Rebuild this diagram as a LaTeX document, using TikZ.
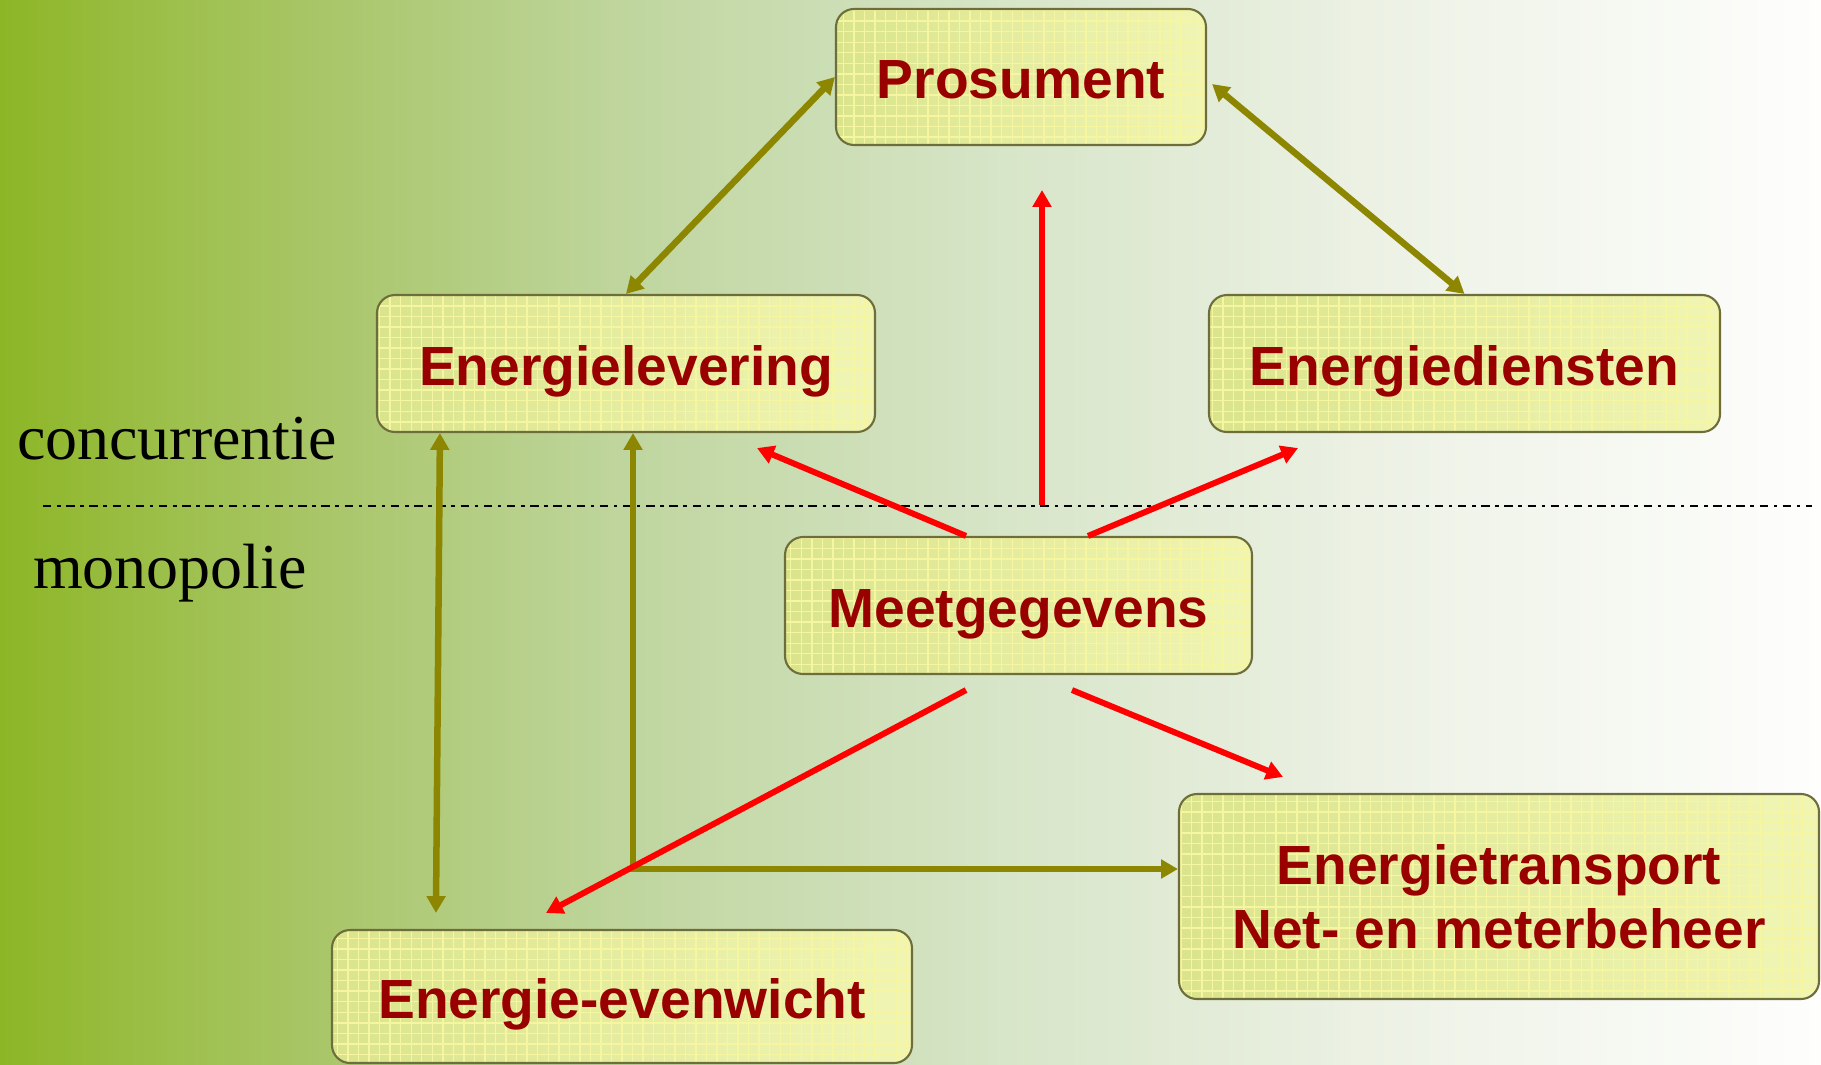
\documentclass[tikz,border=0pt]{standalone}
\usepackage{fontspec}
\setmainfont{Liberation Serif}
\newfontfamily\boxfont{Liberation Sans}
\usetikzlibrary{positioning, arrows.meta, calc, patterns}

\definecolor{bgA}{RGB}{141,182,38}
\definecolor{bgB}{RGB}{158,192,78}
\definecolor{bgC}{RGB}{172,200,112}
\definecolor{bgD}{RGB}{192,214,160}
\definecolor{bgE}{RGB}{215,229,200}
\definecolor{bgF}{RGB}{236,241,228}
\definecolor{bgG}{RGB}{254,254,253}
\definecolor{boxA}{RGB}{218,228,140}
\definecolor{boxB}{RGB}{240,245,180}
\definecolor{gridcol}{RGB}{246,246,160}
\definecolor{boxline}{RGB}{110,110,60}
\definecolor{txtred}{RGB}{153,0,0}

% the path covers 25bp..75bp of a shading
\pgfdeclarehorizontalshading{bgshade}{100bp}{color(0bp)=(bgA); color(25bp)=(bgA); color(30bp)=(bgB); color(35bp)=(bgC); color(42.5bp)=(bgD); color(52.5bp)=(bgE); color(62.5bp)=(bgF); color(75bp)=(bgG); color(100bp)=(bgG)}
\pgfdeclarehorizontalshading{boxshade}{100bp}{color(0bp)=(boxA); color(25bp)=(boxA); color(75bp)=(boxB); color(100bp)=(boxB)}

\begin{document}
\begin{tikzpicture}[
    box/.style={rectangle, rounded corners=0.18cm, draw=boxline, line width=0.6pt,
      preaction={shade, shading=boxshade}, pattern=grid, pattern color=gridcol,
      align=center, text=txtred, font=\boxfont\bfseries\fontsize{15.7}{18.1}\selectfont},
    oneline/.style={box, text height=0.43cm, text depth=0pt},
    zone/.style={inner sep=0pt, font=\fontsize{18.2}{20}\selectfont},
    olivearrow/.style={draw=olive, line width=1.85pt},
    redarrow/.style={draw=red, line width=1.7pt},
    sepline/.style={line width=0.75pt, dash pattern=on 2.4pt off 1.6pt on 1pt off 1.6pt},
    >={Triangle[width=5.2pt,length=4.8pt]}
  ]
    % background
    \useasboundingbox (0,0) rectangle (18.21,-10.65);
    \shade[shading=bgshade] (0,0) rectangle (18.21,-10.65);

    % market side labels and border line
    \node[zone] (conc) at (1.77,-4.39) {concurrentie};
    \node[zone] (mono) at (1.70,-5.73) {monopolie};
    \coordinate (sepL) at (0.43,-5.06);
    \coordinate (sepR) at (18.12,-5.06);
    \draw[sepline] (sepL) -- (sepR);

    % parties
    \node[oneline, minimum width=3.70cm, minimum height=1.36cm] (pros) at (10.21,-0.77) {Prosument};
    \node[oneline, minimum width=4.98cm, minimum height=1.37cm] (lev) at (6.26,-3.635) {Energielevering};
    \node[oneline, minimum width=5.11cm, minimum height=1.37cm] (dien) at (14.645,-3.635) {Energiediensten};
    \node[oneline, minimum width=4.67cm, minimum height=1.37cm] (meet) at (10.185,-6.055) {Meetgegevens};
    \node[oneline, minimum width=5.80cm, minimum height=1.33cm] (even) at (6.22,-9.965) {Energie-evenwicht};
    \node[box, minimum width=6.40cm, minimum height=2.05cm] (trans) at (14.99,-8.965) {Energietransport\\Net- en meterbeheer};

    % olive connections
    \draw[olivearrow, <->] (lev.north) -- (pros.west);
    \draw[olivearrow, <->] ($(pros.east)+(0.05,-0.07)$) -- (dien.north);
    \draw[olivearrow, <->] ($(lev.south west)+(0.64,0)$) -- ($(even.north west)+(1.05,0.16)$);
    \coordinate (corner) at (6.33,-8.69);
    \draw[olivearrow, <->] (lev.south -| corner) -- (corner) -- (corner -| trans.west);

    % data flows from Meetgegevens
    \draw[redarrow, ->] ($(meet.north)+(0.235,0.31)$) -- ($(pros.south)+(0.21,-0.44)$);
    \draw[redarrow, ->] ($(meet.north)+(-0.525,0)$) -- ($(lev.south)+(1.31,-0.15)$);
    \draw[redarrow, ->] ($(meet.north)+(0.695,0)$) -- ($(dien.south)+(-1.665,-0.15)$);
    \draw[redarrow, ->] ($(meet.south)+(-0.525,-0.15)$) -- ($(even.north)+(-0.76,0.16)$);
    \draw[redarrow, ->] ($(meet.south)+(0.535,-0.15)$) -- ($(trans.north)+(-2.16,0.16)$);
\end{tikzpicture}
\end{document}
